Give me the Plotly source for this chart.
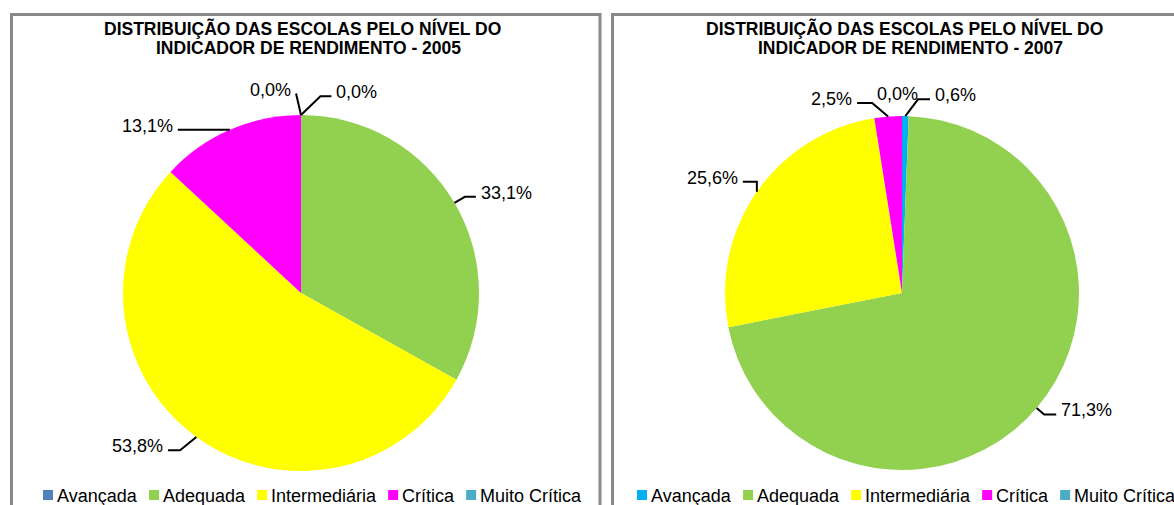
import math
import plotly.graph_objects as go

W, H = 1174, 505

# ---------------- data ----------------
categories = ["Avançada", "Adequada", "Intermediária", "Crítica", "Muito Crítica"]
values_2005 = [0.0, 33.1, 53.8, 13.1, 0.0]
values_2007 = [0.6, 71.3, 25.6, 2.5, 0.0]
colors_2005 = ["#4F81BD", "#92D050", "#FFFF00", "#FF00FF", "#4BACC6"]
colors_2007 = ["#00B0F0", "#92D050", "#FFFF00", "#FF00FF", "#4BACC6"]
title_2005 = ["DISTRIBUIÇÃO DAS ESCOLAS PELO NÍVEL DO", "INDICADOR DE RENDIMENTO - 2005"]
title_2007 = ["DISTRIBUIÇÃO DAS ESCOLAS PELO NÍVEL DO", "INDICADOR DE RENDIMENTO - 2007"]

# ---------------- layout / style ----------------
FONT = "Arial, Liberation Sans, sans-serif"
panels = [
    dict(values=values_2005, colors=colors_2005, title=title_2005,
         cx=301, cy=293, r=178, left=11.5, right=600, title_x=[302, 308], legend_x=43,
         # (angle offset deg, radial length, horizontal length, mode)
         leaders=[(46, 27, 11, "side"), (0, 12, 11, "side"), (15, 21, 12, "side"),
                  (0, 0, 52, "side"), (-13, 22, 0, "side")]),
    dict(values=values_2007, colors=colors_2007, title=title_2007,
         cx=902, cy=293, r=177, left=612.5, right=1205, title_x=[904, 910], legend_x=637,
         leaders=[(36, 21, 12, "side"), (0, 10, 12, "side"), (55, 10, 14, "side"),
                  (-45, 21, 15, "side"), (-20, 20, 0, "center")]),
]

# Arial advance widths (per 1000 em) for legend layout
AW = {"A": 667, "v": 500, "a": 556, "n": 556, "ç": 500, "d": 556, "e": 556, "q": 556,
      "u": 556, "I": 278, "t": 278, "r": 333, "m": 833, "i": 222, "á": 556, "C": 722,
      "í": 278, "c": 500, "M": 833, "o": 556, " ": 278}


def px(x):
    return x / W


def py(y):
    return 1 - y / H


def fmt(v):
    return f"{v:.1f}".replace(".", ",") + "%"


fig = go.Figure()
shapes = []
annotations = []

for p in panels:
    r = p["r"]
    fig.add_trace(go.Pie(
        labels=categories, values=p["values"], sort=False, direction="clockwise",
        rotation=0, textinfo="none", hoverinfo="label+percent", showlegend=False,
        marker=dict(colors=p["colors"], line=dict(width=0)),
        domain=dict(x=[px(p["cx"] - r), px(p["cx"] + r)],
                    y=[py(p["cy"] + r), py(p["cy"] - r)]),
    ))

    # panel border
    shapes.append(dict(type="rect", xref="paper", yref="paper",
                       x0=px(p["left"]), x1=px(p["right"]), y0=py(530), y1=py(14.5),
                       line=dict(color="#898989", width=3), fillcolor="rgba(0,0,0,0)"))

    # title
    for i, line in enumerate(p["title"]):
        annotations.append(dict(text=f"<b>{line}</b>", x=px(p["title_x"][i]), y=py(28 + 20 * i),
                                xref="paper", yref="paper", xanchor="center", yanchor="middle",
                                borderpad=0,
                                showarrow=False, font=dict(family=FONT, size=17.5, color="black")))

    # data labels with leader lines
    total = sum(p["values"])
    cum = 0.0
    for v, (off, ln, hz, mode) in zip(p["values"], p["leaders"]):
        mid = (cum + v / 2) / total * 360
        cum += v
        a = math.radians(mid)
        x0 = p["cx"] + r * math.sin(a)
        y0 = p["cy"] - r * math.cos(a)
        b = math.radians(mid + off)
        x1 = x0 + ln * math.sin(b)
        y1 = y0 - ln * math.cos(b)
        if mode == "center":
            annotations.append(dict(text=fmt(v), x=px(x1 + 2), y=py(y1 - 3), xref="paper", yref="paper",
                                    xanchor="center", yanchor="middle", showarrow=False,
                                    font=dict(family=FONT, size=18, color="black")))
            continue
        side = 1 if mid < 180 else -1
        x2 = x1 + side * hz
        shapes.append(dict(type="path", xref="paper", yref="paper",
                           path=f"M {px(x0)} {py(y0)} L {px(x1)} {py(y1)} L {px(x2)} {py(y1)}",
                           line=dict(color="black", width=2)))
        annotations.append(dict(text=fmt(v), x=px(x2 + side * 3), y=py(y1 - 4),
                                xref="paper", yref="paper",
                                xanchor="left" if side > 0 else "right", yanchor="middle",
                                showarrow=False, font=dict(family=FONT, size=18, color="black")))

    # legend
    lx = p["legend_x"]
    for cat, col in zip(categories, p["colors"]):
        shapes.append(dict(type="rect", xref="paper", yref="paper",
                           x0=px(lx), x1=px(lx + 10), y0=py(500), y1=py(490),
                           line=dict(width=0), fillcolor=col))
        annotations.append(dict(text=cat, x=px(lx + 12), y=py(496), xref="paper", yref="paper",
                                xanchor="left", yanchor="middle", showarrow=False,
                                font=dict(family=FONT, size=18, color="black")))
        tw = sum(AW.get(ch, 556) for ch in cat) * 18 / 1000
        lx += 10 + 3 + tw + 13

fig.update_layout(width=W, height=H, margin=dict(l=0, r=0, t=0, b=0),
                  paper_bgcolor="white", plot_bgcolor="white",
                  shapes=shapes, annotations=annotations)

fig.write_html("out.html", config={"displayModeBar": False},
               post_script="document.body.style.margin='0';document.body.style.overflow='hidden';")
